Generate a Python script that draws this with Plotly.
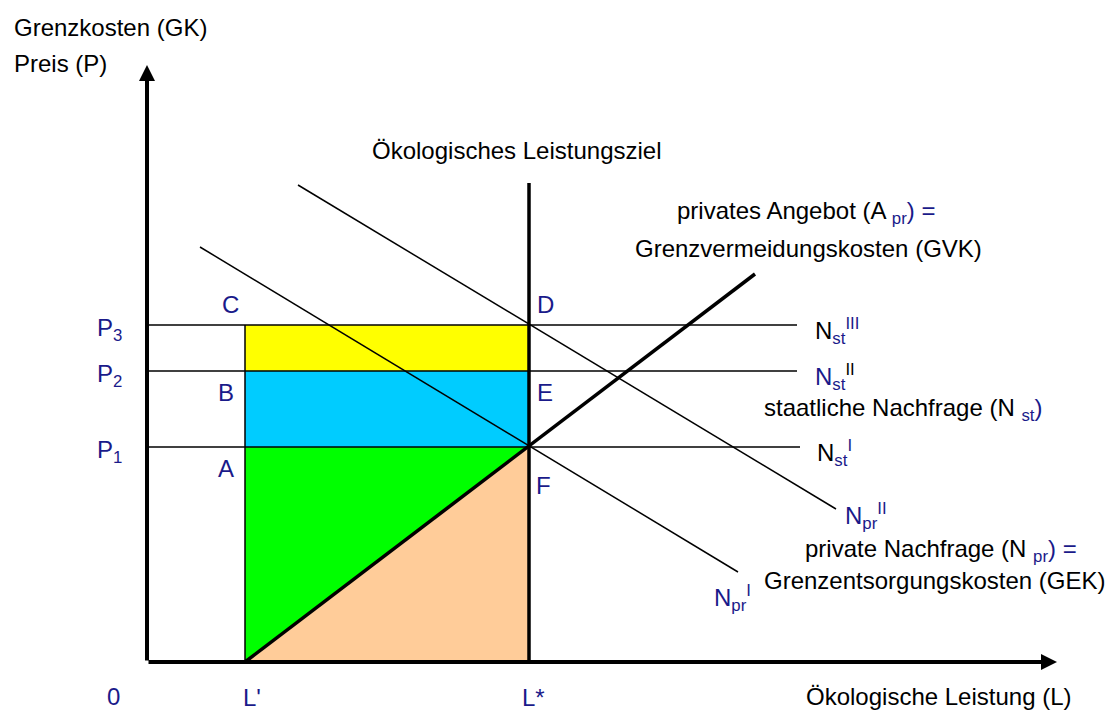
import plotly.graph_objects as go

# Werte in Diagramm-Einheiten (Ursprung = Achsenkreuz)
L_prime = 9.8
L_star = 38.2
P_levels = [21.5, 29.1, 33.7]          # P1, P2, P3
P_names = ["P<sub>1</sub>", "P<sub>2</sub>", "P<sub>3</sub>"]
st_line_end = [65.3, 65.0, 65.0]       # Ende der staatlichen Nachfragegeraden
target_top = 47.9                      # oberes Ende "Ökologisches Leistungsziel"
supply_L = [L_prime, 60.8]             # privates Angebot A_pr
supply_P = [0.0, 38.8]
npr1_L = [5.3, 59.1]                   # N_pr^I
npr1_P = [41.5, 9.0]
npr2_L = [15.1, 68.9]                  # N_pr^II
npr2_P = [47.7, 15.3]
L_axis_max = 91.0
P_axis_max = 59.7

NAVY = "#1a1a8a"
FONT = dict(family="Arial, Liberation Sans, sans-serif", size=24, color="black")


def blue(s):
    return f'<span style="color:{NAVY}">{s}</span>'


fig = go.Figure()

P1, P2, P3 = P_levels

# Flächen
fig.add_trace(go.Scatter(x=[L_prime, L_star, L_star, L_prime], y=[P2, P2, P3, P3],
                         fill="toself", fillcolor="#ffff00", mode="none"))
fig.add_trace(go.Scatter(x=[L_prime, L_star, L_star, L_prime], y=[P1, P1, P2, P2],
                         fill="toself", fillcolor="#00ccff", mode="none"))
fig.add_trace(go.Scatter(x=[L_prime, L_star, L_prime], y=[P1, P1, 0],
                         fill="toself", fillcolor="#00ff00", mode="none"))
fig.add_trace(go.Scatter(x=[L_prime, L_star, L_star], y=[0, P1, 0],
                         fill="toself", fillcolor="#ffcc99", mode="none"))

thin = dict(color="black", width=1.5)
thick = dict(color="black", width=3.5)

# staatliche Nachfrage (horizontal)
for p, xe in zip(P_levels, st_line_end):
    fig.add_trace(go.Scatter(x=[0, xe], y=[p, p], mode="lines", line=thin))

# L' senkrecht
fig.add_trace(go.Scatter(x=[L_prime, L_prime], y=[0, P3], mode="lines", line=thin))

# private Nachfrage
fig.add_trace(go.Scatter(x=npr1_L, y=npr1_P, mode="lines", line=thin))
fig.add_trace(go.Scatter(x=npr2_L, y=npr2_P, mode="lines", line=thin))

# Ökologisches Leistungsziel und privates Angebot
fig.add_trace(go.Scatter(x=[L_star, L_star], y=[0, target_top], mode="lines", line=thick))
fig.add_trace(go.Scatter(x=supply_L, y=supply_P, mode="lines", line=thick))

annotations = []

# Achsen mit Pfeilen
for tip in [(L_axis_max, 0), (0, P_axis_max)]:
    annotations.append(dict(x=tip[0], y=tip[1], ax=0, ay=0, xref="x", yref="y",
                            axref="x", ayref="y", text="", showarrow=True,
                            arrowhead=2, arrowsize=0.8, arrowwidth=4,
                            arrowcolor="black", standoff=0))


def label(x, y, text, anchor="left", color="black"):
    annotations.append(dict(x=x, y=y, xref="x", yref="y", text=text, showarrow=False,
                            xanchor=anchor, yanchor="middle",
                            font=dict(FONT, color=color)))


label(-13.5, 63.5, "Grenzkosten (GK)")
label(-13.5, 59.9, "Preis (P)")
label(L_star - 1.2, 51.2, "Ökologisches Leistungsziel", anchor="center")
label(65.9, 45.0, "privates Angebot (A " + blue("<sub>pr</sub>) ="), anchor="center")
label(66.1, 41.4, "Grenzvermeidungskosten (GVK)", anchor="center")

for p, name in zip(P_levels, P_names):
    label(-5.2, p - 0.4, name, color=NAVY)

label(8.3, 35.8, "C", anchor="center", color=NAVY)
label(7.9, 27.0, "B", anchor="center", color=NAVY)
label(7.9, 19.4, "A", anchor="center", color=NAVY)
label(39.8, 35.8, "D", anchor="center", color=NAVY)
label(39.8, 27.0, "E", anchor="center", color=NAVY)
label(39.6, 17.7, "F", anchor="center", color=NAVY)

label(66.6, P3 - 0.6, "N" + blue("<sub>st</sub>") + blue("<sup>III</sup>"))
label(66.6, P2 - 0.6, blue("N<sub>st</sub>") + "<sup>II</sup>")
label(66.8, P1 - 0.6, "N" + blue("<sub>st</sub>") + blue("<sup>I</sup>"))
label(75.6, 25.3, "staatliche Nachfrage (N " + blue("<sub>st</sub>)"), anchor="center")

label(69.6, 14.6, blue("N<sub>pr</sub><sup>II</sup>"))
label(56.5, 6.4, blue("N<sub>pr</sub><sup>I</sup>"))
label(79.4, 11.2, "private Nachfrage (N " + blue("<sub>pr</sub>) ="), anchor="center")
label(78.8, 8.2, "Grenzentsorgungskosten (GEK)", anchor="center")

label(92.6, -3.4, "Ökologische Leistung (L)", anchor="right")
label(-3.4, -3.4, "0", anchor="center", color=NAVY)
label(L_prime + 0.7, -3.5, "L'", anchor="center", color=NAVY)
label(L_star + 0.4, -3.5, "L*", anchor="center", color=NAVY)

fig.update_layout(
    width=1109, height=711,
    margin=dict(l=0, r=0, t=0, b=0),
    paper_bgcolor="white", plot_bgcolor="white",
    showlegend=False,
    font=FONT,
    xaxis=dict(range=[-14.7, 96.2], visible=False, fixedrange=True),
    yaxis=dict(range=[-4.9, 66.2], visible=False, fixedrange=True),
    annotations=annotations,
)

fig.write_html("out.html", config={"displayModeBar": False},
               post_script="document.body.style.margin='0';")
